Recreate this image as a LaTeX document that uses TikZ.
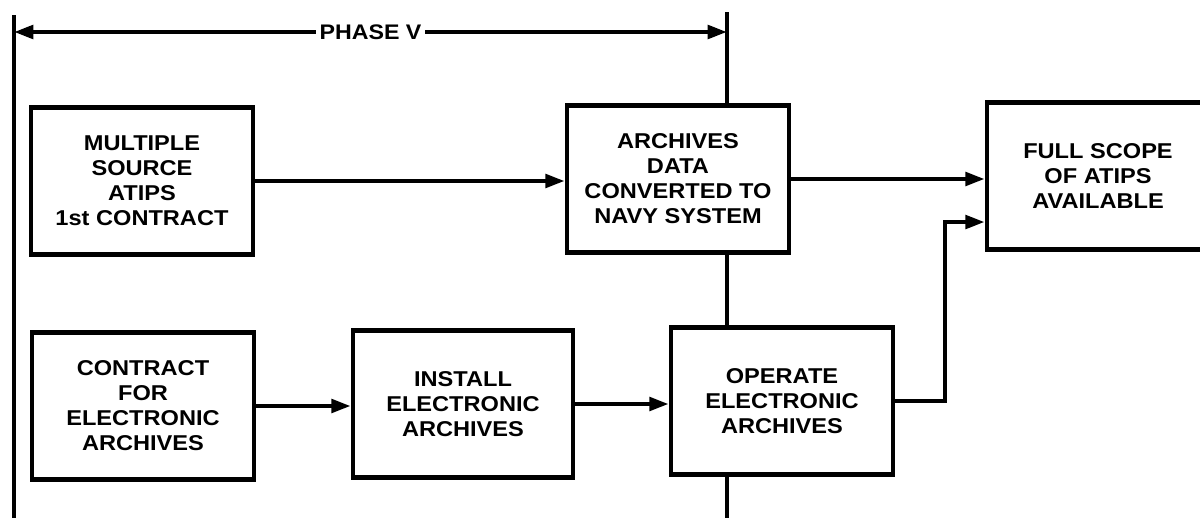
\documentclass[tikz,border=0pt]{standalone}
\usepackage{fontspec}
\setmainfont{Liberation Sans}[FakeStretch=1.1]
\usetikzlibrary{arrows.meta,positioning,backgrounds}

\tikzset{
  stage/.style={draw, line width=1.3pt, fill=white, align=center, inner sep=0pt,
    minimum width=2.22cm, minimum height=1.47cm,
    font=\fontsize{6.1}{7.1}\selectfont\bfseries},
  flow/.style={line width=1.2pt, -{Triangle[length=5.5pt,width=3.8pt]}},
  phaseline/.style={line width=1.4pt}
}

\begin{document}
\begin{tikzpicture}[x=0.01cm,y=-0.01cm]
\clip (0,0) rectangle (1200,518);

% blocks
\node[stage] (msrc) at (142,181) {MULTIPLE\\SOURCE\\ATIPS\\1st CONTRACT};
\node[stage] (conv) at (678,179) {ARCHIVES\\DATA\\CONVERTED TO\\NAVY SYSTEM};
\node[stage] (full) at (1098,176) {FULL SCOPE\\OF ATIPS\\AVAILABLE};
\node[stage] (contr) at (143,406) {CONTRACT\\FOR\\ELECTRONIC\\ARCHIVES};
\node[stage, minimum width=2.2cm] (inst) at (463,404) {INSTALL\\ELECTRONIC\\ARCHIVES};
\node[stage] (oper) at (782,401) {OPERATE\\ELECTRONIC\\ARCHIVES};

% phase limits
\coordinate (ph0top) at (14,15);
\coordinate (ph0bot) at (14,518);
\coordinate (ph1top) at (727,12);
\coordinate (ph1bot) at (727,518);
\coordinate (phL) at (14,32);
\coordinate (phR) at (727,32);
\begin{scope}[on background layer]
\draw[phaseline] (ph0top) -- (ph0bot);
\draw[phaseline] (ph1top) -- (ph1bot);
\end{scope}
\draw[flow, {Triangle[length=5.5pt,width=3.8pt]}-{Triangle[length=5.5pt,width=3.8pt]}] (phL) -- node[fill=white, inner sep=1pt, font=\fontsize{6}{6}\selectfont\bfseries] {PHASE V} (phR);

% flow
\draw[flow] (msrc.east) -- (msrc.east -| conv.west);
\draw[flow] (conv.east) -- (conv.east -| full.west);
\draw[flow] (contr.east) -- (contr.east -| inst.west);
\draw[flow] (inst.east) -- (inst.east -| oper.west);
\coordinate (fullin) at ([yshift=-0.46cm]full.west);
\draw[flow] (oper.east) -| ([xshift=-0.4cm]fullin) -- (fullin);
\end{tikzpicture}
\end{document}
